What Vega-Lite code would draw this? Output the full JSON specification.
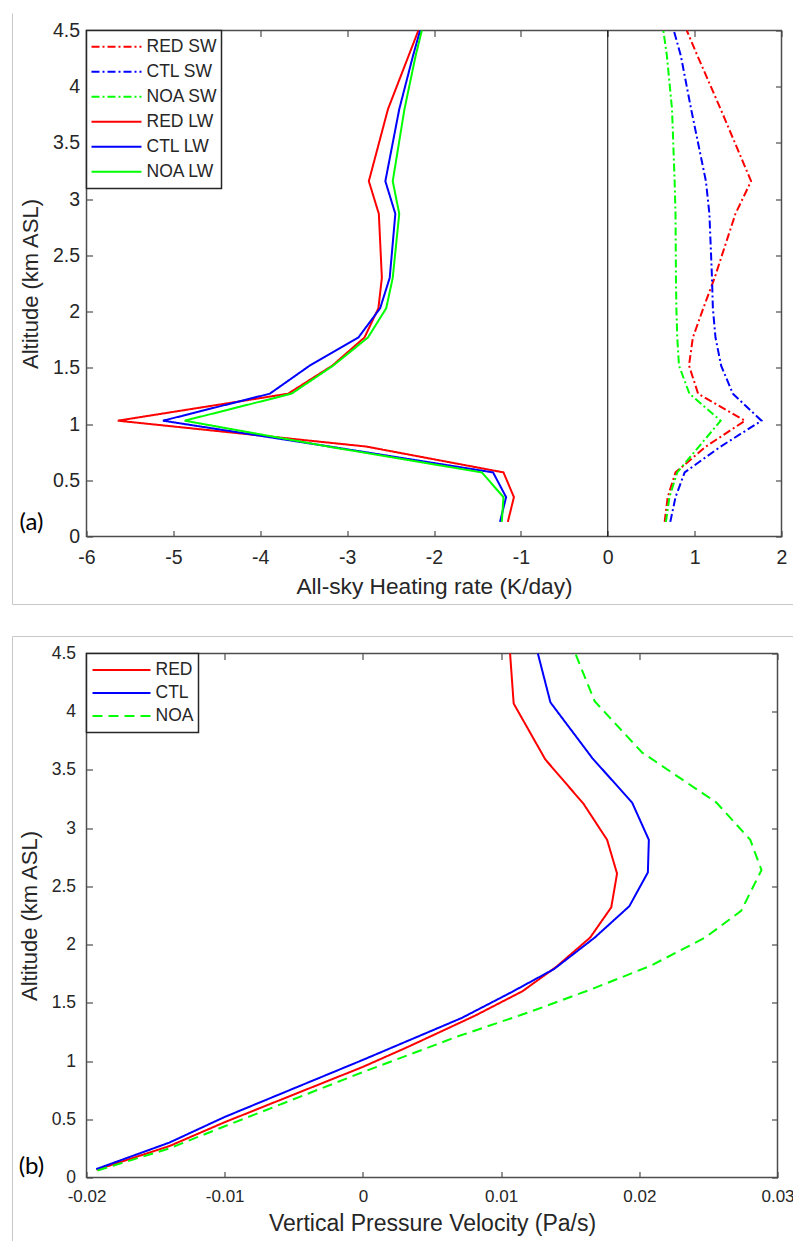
{
  "$schema": "https://vega.github.io/schema/vega-lite/v6.json",
  "background": "white",
  "padding": {"left": 10.5, "top": 11.5, "right": 0, "bottom": 0},
  "spacing": 28,
  "columns": 1,
  "config": {
    "font": "Liberation Sans",
    "view": {"stroke": "#4d4d4d", "strokeWidth": 1.5},
    "axis": {
      "domain": false, "grid": false, "tickColor": "#4d4d4d", "tickWidth": 1.2, "tickSize": -6,
      "labelColor": "#262626", "titleColor": "#262626", "labelFont": "Liberation Sans", "titleFont": "Liberation Sans",
      "titleFontWeight": "normal", "labelFlush": false, "labelOverlap": false
    },
    "legend": {"strokeWidth": 1.5}
  },
  "resolve": {"scale": {"color": "independent", "strokeDash": "independent"}},
  "datasets": {
    "heating": [
      {"s": "RED SW", "alt": 0.13, "rate": 0.655}, {"s": "RED SW", "alt": 0.35, "rate": 0.69}, {"s": "RED SW", "alt": 0.57, "rate": 0.78},
      {"s": "RED SW", "alt": 0.80, "rate": 1.13}, {"s": "RED SW", "alt": 1.03, "rate": 1.58}, {"s": "RED SW", "alt": 1.27, "rate": 1.04},
      {"s": "RED SW", "alt": 1.52, "rate": 0.935}, {"s": "RED SW", "alt": 1.77, "rate": 0.98}, {"s": "RED SW", "alt": 2.03, "rate": 1.10},
      {"s": "RED SW", "alt": 2.30, "rate": 1.23}, {"s": "RED SW", "alt": 2.87, "rate": 1.47}, {"s": "RED SW", "alt": 3.16, "rate": 1.65},
      {"s": "RED SW", "alt": 3.80, "rate": 1.30}, {"s": "RED SW", "alt": 4.28, "rate": 1.03}, {"s": "RED SW", "alt": 4.50, "rate": 0.91},

      {"s": "CTL SW", "alt": 0.13, "rate": 0.72}, {"s": "CTL SW", "alt": 0.35, "rate": 0.78}, {"s": "CTL SW", "alt": 0.57, "rate": 0.885},
      {"s": "CTL SW", "alt": 0.80, "rate": 1.30}, {"s": "CTL SW", "alt": 1.03, "rate": 1.77}, {"s": "CTL SW", "alt": 1.27, "rate": 1.44},
      {"s": "CTL SW", "alt": 1.52, "rate": 1.305}, {"s": "CTL SW", "alt": 1.77, "rate": 1.24}, {"s": "CTL SW", "alt": 2.03, "rate": 1.21},
      {"s": "CTL SW", "alt": 2.30, "rate": 1.20}, {"s": "CTL SW", "alt": 2.87, "rate": 1.17}, {"s": "CTL SW", "alt": 3.16, "rate": 1.13},
      {"s": "CTL SW", "alt": 3.80, "rate": 0.96}, {"s": "CTL SW", "alt": 4.28, "rate": 0.84}, {"s": "CTL SW", "alt": 4.50, "rate": 0.76},

      {"s": "NOA SW", "alt": 0.13, "rate": 0.67}, {"s": "NOA SW", "alt": 0.35, "rate": 0.71}, {"s": "NOA SW", "alt": 0.57, "rate": 0.80},
      {"s": "NOA SW", "alt": 0.80, "rate": 1.05}, {"s": "NOA SW", "alt": 1.03, "rate": 1.30}, {"s": "NOA SW", "alt": 1.27, "rate": 0.94},
      {"s": "NOA SW", "alt": 1.52, "rate": 0.82}, {"s": "NOA SW", "alt": 1.77, "rate": 0.80}, {"s": "NOA SW", "alt": 2.03, "rate": 0.79},
      {"s": "NOA SW", "alt": 2.30, "rate": 0.785}, {"s": "NOA SW", "alt": 2.87, "rate": 0.78}, {"s": "NOA SW", "alt": 3.16, "rate": 0.77},
      {"s": "NOA SW", "alt": 3.80, "rate": 0.74}, {"s": "NOA SW", "alt": 4.28, "rate": 0.68}, {"s": "NOA SW", "alt": 4.50, "rate": 0.64},

      {"s": "RED LW", "alt": 0.13, "rate": -1.15}, {"s": "RED LW", "alt": 0.35, "rate": -1.08}, {"s": "RED LW", "alt": 0.57, "rate": -1.20},
      {"s": "RED LW", "alt": 0.80, "rate": -2.78}, {"s": "RED LW", "alt": 1.03, "rate": -5.64}, {"s": "RED LW", "alt": 1.27, "rate": -3.68},
      {"s": "RED LW", "alt": 1.52, "rate": -3.17}, {"s": "RED LW", "alt": 1.77, "rate": -2.80}, {"s": "RED LW", "alt": 2.03, "rate": -2.64},
      {"s": "RED LW", "alt": 2.30, "rate": -2.60}, {"s": "RED LW", "alt": 2.87, "rate": -2.635}, {"s": "RED LW", "alt": 3.16, "rate": -2.75},
      {"s": "RED LW", "alt": 3.80, "rate": -2.53}, {"s": "RED LW", "alt": 4.28, "rate": -2.29}, {"s": "RED LW", "alt": 4.50, "rate": -2.18},

      {"s": "CTL LW", "alt": 0.13, "rate": -1.24}, {"s": "CTL LW", "alt": 0.35, "rate": -1.17}, {"s": "CTL LW", "alt": 0.57, "rate": -1.32},
      {"s": "CTL LW", "alt": 0.80, "rate": -3.20}, {"s": "CTL LW", "alt": 1.03, "rate": -5.12}, {"s": "CTL LW", "alt": 1.27, "rate": -3.89},
      {"s": "CTL LW", "alt": 1.52, "rate": -3.43}, {"s": "CTL LW", "alt": 1.77, "rate": -2.87}, {"s": "CTL LW", "alt": 2.03, "rate": -2.62},
      {"s": "CTL LW", "alt": 2.30, "rate": -2.51}, {"s": "CTL LW", "alt": 2.87, "rate": -2.445}, {"s": "CTL LW", "alt": 3.16, "rate": -2.56},
      {"s": "CTL LW", "alt": 3.80, "rate": -2.40}, {"s": "CTL LW", "alt": 4.28, "rate": -2.24}, {"s": "CTL LW", "alt": 4.50, "rate": -2.16},

      {"s": "NOA LW", "alt": 0.13, "rate": -1.22}, {"s": "NOA LW", "alt": 0.35, "rate": -1.20}, {"s": "NOA LW", "alt": 0.57, "rate": -1.45},
      {"s": "NOA LW", "alt": 0.80, "rate": -3.22}, {"s": "NOA LW", "alt": 1.03, "rate": -4.87}, {"s": "NOA LW", "alt": 1.27, "rate": -3.64},
      {"s": "NOA LW", "alt": 1.52, "rate": -3.16}, {"s": "NOA LW", "alt": 1.77, "rate": -2.76}, {"s": "NOA LW", "alt": 2.03, "rate": -2.55},
      {"s": "NOA LW", "alt": 2.30, "rate": -2.475}, {"s": "NOA LW", "alt": 2.87, "rate": -2.40}, {"s": "NOA LW", "alt": 3.16, "rate": -2.475},
      {"s": "NOA LW", "alt": 3.80, "rate": -2.34}, {"s": "NOA LW", "alt": 4.28, "rate": -2.21}, {"s": "NOA LW", "alt": 4.50, "rate": -2.14}
    ],
    "omega": [
      {"run": "RED", "alt": 0.066, "w": -0.01927}, {"run": "RED", "alt": 0.27, "w": -0.0140}, {"run": "RED", "alt": 0.475, "w": -0.0100},
      {"run": "RED", "alt": 0.95, "w": 0.0}, {"run": "RED", "alt": 1.12, "w": 0.00323},
      {"run": "RED", "alt": 1.39, "w": 0.00812}, {"run": "RED", "alt": 1.60, "w": 0.01155}, {"run": "RED", "alt": 1.81, "w": 0.0140},
      {"run": "RED", "alt": 2.06, "w": 0.01644}, {"run": "RED", "alt": 2.32, "w": 0.01797}, {"run": "RED", "alt": 2.61, "w": 0.01839},
      {"run": "RED", "alt": 2.90, "w": 0.01767}, {"run": "RED", "alt": 3.21, "w": 0.01596}, {"run": "RED", "alt": 3.59, "w": 0.0132},
      {"run": "RED", "alt": 4.07, "w": 0.01091}, {"run": "RED", "alt": 4.50, "w": 0.01065},

      {"run": "CTL", "alt": 0.072, "w": -0.0193}, {"run": "CTL", "alt": 0.30, "w": -0.0140}, {"run": "CTL", "alt": 0.52, "w": -0.0100},
      {"run": "CTL", "alt": 1.01, "w": 0.0},
      {"run": "CTL", "alt": 1.37, "w": 0.00715}, {"run": "CTL", "alt": 1.59, "w": 0.01073}, {"run": "CTL", "alt": 1.79, "w": 0.01383},
      {"run": "CTL", "alt": 2.06, "w": 0.01677}, {"run": "CTL", "alt": 2.33, "w": 0.01928}, {"run": "CTL", "alt": 2.62, "w": 0.02062},
      {"run": "CTL", "alt": 2.90, "w": 0.02069}, {"run": "CTL", "alt": 3.22, "w": 0.01948}, {"run": "CTL", "alt": 3.60, "w": 0.01661},
      {"run": "CTL", "alt": 4.08, "w": 0.01357}, {"run": "CTL", "alt": 4.50, "w": 0.01266},

      {"run": "NOA", "alt": 0.06, "w": -0.0192}, {"run": "NOA", "alt": 0.25, "w": -0.0140}, {"run": "NOA", "alt": 0.44, "w": -0.0100},
      {"run": "NOA", "alt": 0.905, "w": 0.0}, {"run": "NOA", "alt": 1.21, "w": 0.00682},
      {"run": "NOA", "alt": 1.42, "w": 0.01204}, {"run": "NOA", "alt": 1.62, "w": 0.01661}, {"run": "NOA", "alt": 1.82, "w": 0.02085},
      {"run": "NOA", "alt": 2.06, "w": 0.02476}, {"run": "NOA", "alt": 2.29, "w": 0.02737}, {"run": "NOA", "alt": 2.64, "w": 0.02884},
      {"run": "NOA", "alt": 2.90, "w": 0.02803}, {"run": "NOA", "alt": 3.22, "w": 0.02558}, {"run": "NOA", "alt": 3.65, "w": 0.0202},
      {"run": "NOA", "alt": 4.09, "w": 0.01677}, {"run": "NOA", "alt": 4.50, "w": 0.01537}
    ]
  },
  "concat": [
    {
      "width": 695,
      "height": 506,
      "layer": [
        {
          "data": {"values": [{}]},
          "mark": {"type": "rule", "color": "#c8c8c8", "strokeWidth": 1},
          "encoding": {
            "x": {"datum": -6.852, "type": "quantitative", "scale": {"domain": [-6, 2], "nice": false, "zero": false}, "axis": null},
            "y": {"datum": 4.651, "type": "quantitative", "scale": {"domain": [0, 4.5], "nice": false, "zero": false}, "axis": null},
            "y2": {"datum": -0.605}
          }
        },
        {
          "data": {"values": [{}]},
          "mark": {"type": "rule", "color": "#c8c8c8", "strokeWidth": 1},
          "encoding": {
            "x": {"datum": -6.852, "type": "quantitative", "scale": {"domain": [-6, 2], "nice": false, "zero": false}, "axis": null},
            "x2": {"datum": 2.15},
            "y": {"datum": -0.605, "type": "quantitative", "scale": {"domain": [0, 4.5], "nice": false, "zero": false}, "axis": null}
          }
        },
        {
          "data": {"values": [{}]},
          "mark": {"type": "rule", "color": "#000000", "strokeWidth": 1},
          "encoding": {
            "x": {"datum": 0, "type": "quantitative", "scale": {"domain": [-6, 2], "nice": false, "zero": false}, "axis": null},
            "y": {"datum": 0, "type": "quantitative", "scale": {"domain": [0, 4.5], "nice": false, "zero": false}, "axis": null},
            "y2": {"datum": 4.5}
          }
        },
        {
          "data": {"values": [{}]},
          "mark": {"type": "text", "text": "(a)", "font": "Lato", "fontSize": 24, "color": "#000000", "align": "center", "baseline": "middle"},
          "encoding": {
            "x": {"datum": -6.633, "type": "quantitative", "scale": {"domain": [-6, 2], "nice": false, "zero": false}, "axis": null},
            "y": {"datum": 0.116, "type": "quantitative", "scale": {"domain": [0, 4.5], "nice": false, "zero": false}, "axis": null}
          }
        },
        {
          "data": {"name": "heating"},
          "mark": {"type": "line", "strokeWidth": 2},
          "encoding": {
            "x": {
              "field": "rate", "type": "quantitative",
              "scale": {"domain": [-6, 2], "nice": false, "zero": false},
              "axis": {"orient": "bottom", "values": [-6, -5, -4, -3, -2, -1, 0, 1, 2], "format": "~g", "title": "All-sky Heating rate (K/day)",
                "labelFontSize": 19.5, "labelPadding": 18, "titleFontSize": 22.7, "titlePadding": 8.5,
                "labelExpr": "replace(datum.label, '\u2212', '-')"}
            },
            "y": {
              "field": "alt", "type": "quantitative",
              "scale": {"domain": [0, 4.5], "nice": false, "zero": false},
              "axis": {"orient": "left", "values": [0, 0.5, 1, 1.5, 2, 2.5, 3, 3.5, 4, 4.5], "format": "~g", "title": "Altitude (km ASL)",
                "labelFontSize": 19.5, "labelPadding": 13, "titleFontSize": 22, "titlePadding": 10}
            },
            "color": {
              "field": "s", "type": "nominal",
              "scale": {"domain": ["RED SW", "CTL SW", "NOA SW", "RED LW", "CTL LW", "NOA LW"],
                        "range": ["#ff0000", "#0000ff", "#00ff00", "#ff0000", "#0000ff", "#00ff00"]},
              "legend": {"title": null, "orient": "top-left", "offset": 0, "symbolType": "stroke", "symbolSize": 2500,
                "symbolStrokeWidth": 2, "labelFontSize": 17.5, "labelFont": "Liberation Sans", "labelColor": "#262626",
                "labelOffset": 4, "padding": 4, "strokeColor": "#262626", "fillColor": "white", "clipHeight": 24.4,
                "rowPadding": 0, "labelLimit": 300}
            },
            "strokeDash": {
              "field": "s", "type": "nominal",
              "scale": {"domain": ["RED SW", "CTL SW", "NOA SW", "RED LW", "CTL LW", "NOA LW"],
                        "range": [[8, 3, 2, 3], [8, 3, 2, 3], [8, 3, 2, 3], [1, 0], [1, 0], [1, 0]]},
              "legend": {"title": null, "orient": "top-left", "offset": 0, "symbolType": "stroke", "symbolSize": 2500,
                "symbolStrokeWidth": 2, "labelFontSize": 17.5, "labelFont": "Liberation Sans", "labelColor": "#262626",
                "labelOffset": 4, "padding": 4, "strokeColor": "#262626", "fillColor": "white", "clipHeight": 24.4,
                "rowPadding": 0, "labelLimit": 300}
            },
            "order": {"field": "alt", "type": "quantitative"}
          }
        },
        {
          "data": {"name": "heating"},
          "mark": {"type": "point", "opacity": 0},
          "encoding": {
            "x": {"field": "rate", "type": "quantitative", "scale": {"domain": [-6, 2], "nice": false, "zero": false},
              "axis": {"orient": "top", "values": [-6, -5, -4, -3, -2, -1, 0, 1, 2], "labels": false, "title": null}},
            "y": {"field": "alt", "type": "quantitative", "scale": {"domain": [0, 4.5], "nice": false, "zero": false},
              "axis": {"orient": "right", "values": [0, 0.5, 1, 1.5, 2, 2.5, 3, 3.5, 4, 4.5], "labels": false, "title": null}}
          }
        }
      ]
    },
    {
      "width": 691,
      "height": 524,
      "layer": [
        {
          "data": {"values": [{}]},
          "mark": {"type": "rule", "color": "#c8c8c8", "strokeWidth": 1},
          "encoding": {
            "x": {"datum": -0.025355, "type": "quantitative", "scale": {"domain": [-0.02, 0.03], "nice": false, "zero": false}, "axis": null},
            "y": {"datum": 4.646, "type": "quantitative", "scale": {"domain": [0, 4.5], "nice": false, "zero": false}, "axis": null},
            "y2": {"datum": -0.558}
          }
        },
        {
          "data": {"values": [{}]},
          "mark": {"type": "rule", "color": "#c8c8c8", "strokeWidth": 1},
          "encoding": {
            "x": {"datum": -0.025355, "type": "quantitative", "scale": {"domain": [-0.02, 0.03], "nice": false, "zero": false}, "axis": null},
            "x2": {"datum": 0.03123},
            "y": {"datum": 4.646, "type": "quantitative", "scale": {"domain": [0, 4.5], "nice": false, "zero": false}, "axis": null}
          }
        },
        {
          "data": {"values": [{}]},
          "mark": {"type": "text", "text": "(b)", "font": "Lato", "fontSize": 24, "color": "#000000", "align": "center", "baseline": "middle"},
          "encoding": {
            "x": {"datum": -0.02398, "type": "quantitative", "scale": {"domain": [-0.02, 0.03], "nice": false, "zero": false}, "axis": null},
            "y": {"datum": 0.086, "type": "quantitative", "scale": {"domain": [0, 4.5], "nice": false, "zero": false}, "axis": null}
          }
        },
        {
          "data": {"name": "omega"},
          "mark": {"type": "line", "strokeWidth": 2},
          "encoding": {
            "x": {
              "field": "w", "type": "quantitative",
              "scale": {"domain": [-0.02, 0.03], "nice": false, "zero": false},
              "axis": {"orient": "bottom", "values": [-0.02, -0.01, 0, 0.01, 0.02, 0.03], "format": "~g", "title": "Vertical Pressure Velocity (Pa/s)",
                "labelFontSize": 17, "labelPadding": 17.4, "titleFontSize": 23, "titlePadding": 8,
                "labelExpr": "replace(datum.label, '\u2212', '-')"}
            },
            "y": {
              "field": "alt", "type": "quantitative",
              "scale": {"domain": [0, 4.5], "nice": false, "zero": false},
              "axis": {"orient": "left", "values": [0, 0.5, 1, 1.5, 2, 2.5, 3, 3.5, 4, 4.5], "format": "~g", "title": "Altitude (km ASL)",
                "labelFontSize": 17.5, "labelPadding": 17, "titleFontSize": 22, "titlePadding": 10}
            },
            "color": {
              "field": "run", "type": "nominal",
              "scale": {"domain": ["RED", "CTL", "NOA"], "range": ["#ff0000", "#0000ff", "#00ff00"]},
              "legend": {"title": null, "orient": "top-left", "offset": 0, "symbolType": "stroke", "symbolSize": 3364,
                "symbolStrokeWidth": 2, "labelFontSize": 17.5, "labelFont": "Liberation Sans", "labelColor": "#262626",
                "labelOffset": 4, "padding": 5, "strokeColor": "#262626", "fillColor": "white", "clipHeight": 23,
                "rowPadding": 0, "labelLimit": 300}
            },
            "strokeDash": {
              "field": "run", "type": "nominal",
              "scale": {"domain": ["RED", "CTL", "NOA"], "range": [[1, 0], [1, 0], [10, 6]]},
              "legend": {"title": null, "orient": "top-left", "offset": 0, "symbolType": "stroke", "symbolSize": 3364,
                "symbolStrokeWidth": 2, "labelFontSize": 17.5, "labelFont": "Liberation Sans", "labelColor": "#262626",
                "labelOffset": 4, "padding": 5, "strokeColor": "#262626", "fillColor": "white", "clipHeight": 23,
                "rowPadding": 0, "labelLimit": 300}
            },
            "order": {"field": "alt", "type": "quantitative"}
          }
        },
        {
          "data": {"name": "omega"},
          "mark": {"type": "point", "opacity": 0},
          "encoding": {
            "x": {"field": "w", "type": "quantitative", "scale": {"domain": [-0.02, 0.03], "nice": false, "zero": false},
              "axis": {"orient": "top", "values": [-0.02, -0.01, 0, 0.01, 0.02, 0.03], "labels": false, "title": null}},
            "y": {"field": "alt", "type": "quantitative", "scale": {"domain": [0, 4.5], "nice": false, "zero": false},
              "axis": {"orient": "right", "values": [0, 0.5, 1, 1.5, 2, 2.5, 3, 3.5, 4, 4.5], "labels": false, "title": null}}
          }
        }
      ]
    }
  ]
}
